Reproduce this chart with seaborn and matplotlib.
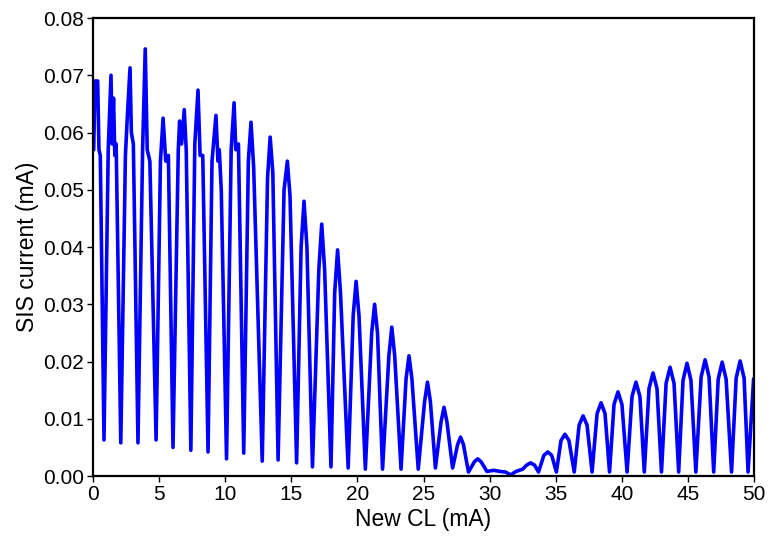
""" SIS current vs new control line current.

Oscillating interference pattern, redrawn from the measured trace.
"""

import pandas as pd
import matplotlib
matplotlib.use("Agg")
import matplotlib.pyplot as plt
import seaborn as sns


# --------------------------------------------------------
#       DATA  (vertices, mA)
# --------------------------------------------------------

# noisy high part, 0 - 15.4 mA
x_noisy = [0.05, 0.15, 0.35, 0.45, 0.55, 0.83,
           1.15, 1.36, 1.45, 1.55, 1.65, 1.75, 2.1,
           2.45, 2.6, 2.8, 2.9, 3.05, 3.4,
           3.75, 3.95, 4.1, 4.3, 4.77,
           5.1, 5.3, 5.5, 5.7, 6.05,
           6.45, 6.55, 6.7, 6.9, 7.05, 7.4,
           7.7, 7.94, 8.1, 8.3, 8.7,
           9.0, 9.3, 9.45, 9.55, 9.7, 10.1,
           10.45, 10.67, 10.8, 11.0, 11.4,
           11.75, 11.95, 12.15, 12.8,
           13.2, 13.4, 13.6, 14.0,
           14.45, 14.7, 14.9, 15.4]
y_noisy = [0.057, 0.069, 0.069, 0.057, 0.056, 0.0063,
           0.057, 0.070, 0.058, 0.066, 0.056, 0.058, 0.0058,
           0.056, 0.063, 0.0713, 0.060, 0.058, 0.0058,
           0.057, 0.0746, 0.057, 0.055, 0.0063,
           0.055, 0.0625, 0.055, 0.056, 0.0050,
           0.057, 0.062, 0.058, 0.064, 0.057, 0.0045,
           0.058, 0.0674, 0.056, 0.056, 0.0042,
           0.055, 0.063, 0.055, 0.057, 0.050, 0.0030,
           0.057, 0.0652, 0.057, 0.058, 0.0040,
           0.055, 0.0618, 0.054, 0.0026,
           0.052, 0.0592, 0.053, 0.0028,
           0.050, 0.055, 0.049, 0.0023]

# decaying fringes, 15.7 - 29.8 mA
x_decay = [15.74, 15.96, 16.18, 16.6,
           17.08, 17.3, 17.52, 18.0,
           18.28, 18.5, 18.72, 19.3,
           19.68, 19.9, 20.12, 20.6,
           21.08, 21.3, 21.52, 21.9,
           22.38, 22.6, 22.82, 23.3,
           23.68, 23.9, 24.12, 24.6,
           25.08, 25.3, 25.52, 25.9,
           26.33, 26.55, 26.77, 27.2,
           27.58, 27.8, 28.02, 28.4,
           28.85, 29.1, 29.35, 29.8]
y_decay = [0.040, 0.048, 0.040, 0.0016,
           0.036, 0.044, 0.036, 0.0016,
           0.032, 0.0395, 0.032, 0.0014,
           0.028, 0.034, 0.028, 0.0012,
           0.025, 0.030, 0.025, 0.0012,
           0.021, 0.026, 0.021, 0.0012,
           0.017, 0.021, 0.017, 0.0012,
           0.013, 0.0164, 0.013, 0.0014,
           0.0095, 0.012, 0.0095, 0.0014,
           0.0055, 0.0068, 0.0055, 0.0007,
           0.0025, 0.0030, 0.0025, 0.0008]

# near-zero stretch, 30 - 32.5 mA
x_flat = [30.3, 30.8, 31.2, 31.6, 32.0, 32.5]
y_flat = [0.0010, 0.0008, 0.0007, 0.0002, 0.0008, 0.0012]

# revival fringes, 32.8 - 50 mA
x_revival = [32.8, 33.1, 33.4, 33.7,
             34.1, 34.4, 34.7, 35.05,
             35.4, 35.7, 36.0, 36.4,
             36.77, 37.07, 37.37, 37.75,
             38.13, 38.43, 38.73, 39.07,
             39.41, 39.71, 40.01, 40.4,
             40.77, 41.07, 41.37, 41.7,
             42.06, 42.36, 42.66, 43.0,
             43.35, 43.65, 43.95, 44.3,
             44.63, 44.93, 45.23, 45.6,
             46.0, 46.3, 46.6, 46.95,
             47.29, 47.59, 47.89, 48.3,
             48.65, 48.95, 49.25, 49.55, 49.97]
y_revival = [0.0019, 0.0023, 0.0019, 0.0007,
             0.0036, 0.0042, 0.0036, 0.0007,
             0.0062, 0.0073, 0.0062, 0.0007,
             0.0089, 0.0105, 0.0089, 0.0007,
             0.0109, 0.0128, 0.0109, 0.0007,
             0.0125, 0.0147, 0.0125, 0.0007,
             0.0139, 0.0164, 0.0139, 0.0007,
             0.0153, 0.0180, 0.0153, 0.0007,
             0.0162, 0.0190, 0.0162, 0.0007,
             0.0167, 0.0197, 0.0167, 0.0007,
             0.0173, 0.0203, 0.0173, 0.0007,
             0.0169, 0.0199, 0.0169, 0.0007,
             0.0171, 0.0201, 0.0171, 0.0007, 0.0170]

x_ticks = [0, 5, 10, 15, 20, 25, 30, 35, 40, 45, 50]
y_ticks = [0.00, 0.01, 0.02, 0.03, 0.04, 0.05, 0.06, 0.07, 0.08]


# --------------------------------------------------------
#       PLOT
# --------------------------------------------------------

trace = pd.DataFrame({
    "cl": x_noisy + x_decay + x_flat + x_revival,
    "sis": y_noisy + y_decay + y_flat + y_revival,
})

sns.set_theme(style="ticks")
plt.rcParams["font.family"] = ["Liberation Sans", "DejaVu Sans"]

fig = plt.figure(figsize=(7.72, 5.41), dpi=100)
ax = fig.add_axes([0.1205, 0.1201, 0.8562, 0.8466])

g = sns.lineplot(data=trace, x="cl", y="sis", sort=False, estimator=None,
                 color="#0000FF", linewidth=2.6, ax=ax)

g.set(xlim=(0, 50), ylim=(0, 0.08))
g.set_xticks(x_ticks)
g.set_yticks(y_ticks)
g.set_yticklabels(["%.2f" % v for v in y_ticks])
g.set_xlabel("New CL (mA)", fontsize=16.5, labelpad=3, color="black")
g.set_ylabel("SIS current (mA)", fontsize=16.5, labelpad=3, color="black")
g.tick_params(axis="both", direction="out", length=4, width=1,
              labelsize=15, pad=2.5, color="black", labelcolor="black")

for side in ["top", "right", "left", "bottom"]:
    ax.spines[side].set_visible(True)
    ax.spines[side].set_color("black")
    ax.spines[side].set_linewidth(1.6)

fig.savefig("out.png", dpi=100)
